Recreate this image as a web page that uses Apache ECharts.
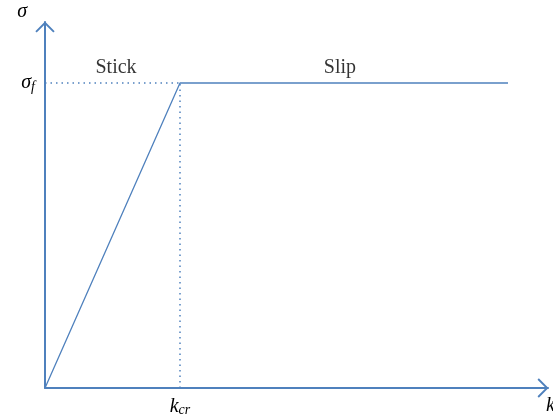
<!DOCTYPE html>
<html><head><meta charset="utf-8">
<script src="https://cdn.jsdelivr.net/npm/echarts@6/dist/echarts.min.js"></script>
<style>html,body{margin:0;padding:0;background:#fff}#c{width:553px;height:417px}</style>
</head><body><div id="c"></div>
<script>
// data (arbitrary units: k_cr = 1, sigma_f = 1)
const curveX = [0, 1, 3.43];
const curveY = [0, 1, 1];
const kcr = 1;
const sigmaF = 1;
const regionNames = ['Stick', 'Slip'];
const regionX = [0.526, 2.185];
const regionY = [1.049, 1.049];
const xMax = 3.726;
const yMax = 1.2;

const blue = '#4f81bd';
const chevron = 'path://M0,10 L10,0 L20,10 L18.6,11.4 L10,2.8 L1.4,11.4 Z';
const serif = 'Liberation Serif';

const chart = echarts.init(document.getElementById('c'));
chart.setOption({
  animation: false,
  grid: {left: 45, right: 5, top: 22, bottom: 29, containLabel: false, outerBoundsMode: 'none'},
  xAxis: {
    type: 'value', min: 0, max: xMax, interval: 1,
    splitLine: {show: false}, axisTick: {show: false},
    axisLine: {lineStyle: {color: blue, width: 2}, symbol: ['none', chevron], symbolSize: [20, 11], symbolOffset: [0, -5]},
    axisLabel: {
      margin: 9, color: '#000', fontFamily: serif, fontStyle: 'italic', fontSize: 18,
      formatter: v => Math.abs(v - kcr) < 1e-9 ? '{k|k}{s|cr}' : '',
      rich: {k: {fontSize: 20, fontStyle: 'italic', fontFamily: serif, color: '#000'},
             s: {fontSize: 14, fontStyle: 'italic', fontFamily: serif, color: '#000', padding: [6, 0, 0, 0]}}
    },
    name: 'k', nameLocation: 'end', nameGap: -2,
    nameTextStyle: {fontFamily: serif, fontStyle: 'italic', fontSize: 20, color: '#000', verticalAlign: 'top', padding: [8, 0, 0, 0]}
  },
  yAxis: {
    type: 'value', min: 0, max: yMax, interval: 1,
    splitLine: {show: false}, axisTick: {show: false},
    axisLine: {lineStyle: {color: blue, width: 2}, symbol: ['none', chevron], symbolSize: [20, 11], symbolOffset: [0, -5]},
    axisLabel: {
      margin: 10, color: '#000', fontFamily: serif, fontStyle: 'italic',
      formatter: v => Math.abs(v - sigmaF) < 1e-9 ? '{k|σ}{s|f}' : '',
      rich: {k: {fontSize: 20, fontStyle: 'italic', fontFamily: serif, color: '#000'},
             s: {fontSize: 14, fontStyle: 'italic', fontFamily: serif, color: '#000', padding: [8, 0, 0, 0]}}
    },
    name: 'σ', nameLocation: 'end', nameGap: 0,
    nameTextStyle: {fontFamily: serif, fontStyle: 'italic', fontSize: 20, color: '#000', align: 'right', padding: [0, 18, 0, 0]}
  },
  series: [
    {type: 'line', data: curveX.map((x, i) => [x, curveY[i]]), symbol: 'none',
     lineStyle: {color: blue, width: 1.3}, z: 3},
    {type: 'line', data: [[0, sigmaF], [kcr, sigmaF]], symbol: 'none',
     lineStyle: {color: blue, width: 1.5, type: [1.5, 4]}, z: 2},
    {type: 'line', data: [[kcr, 0], [kcr, sigmaF]], symbol: 'none',
     lineStyle: {color: blue, width: 1.5, type: [1.5, 4]}, z: 2},
    {type: 'scatter', symbolSize: 0, data: regionNames.map((n, i) => ({name: n, value: [regionX[i], regionY[i]]})),
     label: {show: true, position: 'inside', formatter: p => p.name, color: '#000', fontFamily: serif, fontSize: 20}}
  ]
});
</script></body></html>
